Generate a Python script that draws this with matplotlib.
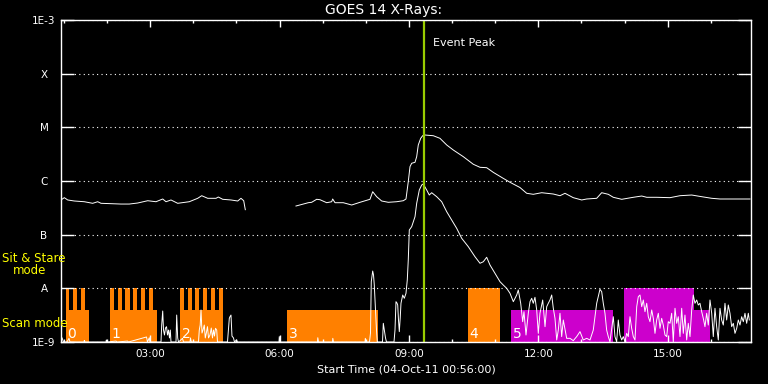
import matplotlib
matplotlib.use('Agg')
import matplotlib.pyplot as plt
import numpy as np
from matplotlib.ticker import FixedLocator, NullFormatter

# ---------------- data (time in decimal hours UT, 04-Oct-2011) ----------------
t_start = 0.9333   # 00:56
t_end = 16.9333

long_t = [0.933, 1.010, 1.089, 1.241, 1.473, 1.668, 1.784, 1.861, 2.093, 2.324, 2.517, 2.712,
          2.944, 3.136, 3.292, 3.368, 3.484, 3.639, 3.908, 4.103, 4.196, 4.335, 4.528, 4.581,
          4.683, 4.876, 5.031, 5.107, 5.170, 5.207, 5.800,
          6.382, 6.552, 6.667, 6.746, 6.862, 6.939, 7.094, 7.210, 7.233, 7.287, 7.479, 7.674,
          7.867, 8.098, 8.161, 8.253, 8.369, 8.523, 8.717, 8.870, 8.933, 8.986, 9.026, 9.065,
          9.142, 9.181, 9.218, 9.274, 9.320, 9.374, 9.566, 9.721, 9.877, 10.030, 10.262,
          10.494, 10.649, 10.804, 10.957, 11.189, 11.345, 11.576, 11.732, 11.885, 12.080,
          12.349, 12.504, 12.620, 12.812, 13.007, 13.123, 13.355, 13.471, 13.624, 13.740,
          13.935, 14.204, 14.399, 14.515, 14.746, 15.055, 15.287, 15.558, 15.790, 16.022,
          16.214, 16.910]
long_flux = [4.43e-7, 4.89e-7, 4.43e-7, 4.24e-7, 4.11e-7, 3.84e-7, 4.11e-7, 3.84e-7, 3.78e-7,
             3.72e-7, 3.72e-7, 3.89e-7, 4.29e-7, 4.11e-7, 4.62e-7, 4.11e-7, 4.43e-7, 3.84e-7,
             4.11e-7, 4.76e-7, 5.32e-7, 4.76e-7, 4.76e-7, 5.03e-7, 4.56e-7, 4.43e-7, 4.24e-7,
             4.76e-7, 4.29e-7, 2.92e-7, np.nan,
             3.42e-7, 3.72e-7, 3.94e-7, 4.01e-7, 4.56e-7, 4.48e-7, 3.94e-7, 4.11e-7, 4.62e-7,
             3.94e-7, 3.94e-7, 3.57e-7, 4.01e-7, 4.56e-7, 6.31e-7, 5.10e-7, 4.24e-7, 4.01e-7,
             4.11e-7, 4.29e-7, 4.62e-7, 9.70e-7, 1.85e-6, 2.14e-6, 2.23e-6, 2.84e-6, 4.69e-6,
             6.24e-6, 6.98e-6, 7.19e-6, 6.98e-6, 6.24e-6, 4.69e-6, 3.78e-6, 2.84e-6, 2.05e-6,
             1.80e-6, 1.77e-6, 1.45e-6, 1.12e-6, 9.46e-7, 7.56e-7, 5.90e-7, 5.65e-7, 6.05e-7,
             5.72e-7, 5.32e-7, 5.90e-7, 4.89e-7, 4.43e-7, 4.62e-7, 4.76e-7, 6.05e-7, 5.65e-7,
             4.97e-7, 4.56e-7, 4.97e-7, 5.25e-7, 4.97e-7, 4.97e-7, 4.89e-7, 5.32e-7, 5.48e-7,
             5.10e-7, 4.76e-7, 4.62e-7, 4.62e-7]

short_t = [0.933, 0.957, 0.991, 1.072, 1.119, 1.142, 1.467, 1.474, 1.490, 1.977, 1.984, 2.000,
           2.209, 2.232, 2.475, 2.498, 2.916, 2.939, 2.981, 2.997, 3.252, 3.268, 3.292, 3.310,
           3.333, 3.356, 3.380, 3.403, 3.426, 3.449, 3.468, 3.484, 3.600, 3.616, 3.639, 3.658,
           3.751, 3.774, 3.924, 3.936, 3.955, 4.121, 4.140, 4.161, 4.180, 4.203, 4.226, 4.256,
           4.279, 4.303, 4.330, 4.354, 4.388, 4.418, 4.446, 4.469, 4.493, 4.516, 4.544, 4.562,
           4.794, 4.813, 4.836, 4.852, 4.875, 4.898, 4.933, 4.956, 5.003, 5.026, 5.988, 5.995,
           6.012, 6.881, 6.888, 6.904, 7.229, 7.236, 7.252, 7.983, 7.990, 8.006, 8.087, 8.110,
           8.128, 8.161, 8.180, 8.198, 8.226, 8.249, 8.268, 8.388, 8.407, 8.430, 8.458, 8.481,
           8.655, 8.678, 8.701, 8.724, 8.741, 8.759, 8.778, 8.799, 8.817, 8.857, 8.894, 8.933,
           8.963, 8.986, 9.010, 9.065, 9.142, 9.181, 9.242, 9.297, 9.334, 9.413, 9.473, 9.529,
           9.645, 9.761, 9.877, 9.993, 10.109, 10.225, 10.378, 10.533, 10.649, 10.726, 10.804,
           10.881, 10.997, 11.113, 11.190, 11.268, 11.345, 11.422, 11.500, 11.537, 11.593,
           11.639, 11.669, 11.716, 11.769, 11.809, 11.848, 11.885, 11.924, 11.964, 12.001,
           12.040, 12.103, 12.157, 12.196, 12.233, 12.272, 12.312, 12.349, 12.388, 12.428,
           12.465, 12.504, 12.543, 12.581, 12.659, 12.736, 12.812, 12.891, 12.968, 13.044,
           13.123, 13.200, 13.276, 13.355, 13.408, 13.431, 13.471, 13.508, 13.547, 13.586,
           13.624, 13.663, 13.740, 13.779, 13.818, 13.856, 13.895, 13.935, 13.972, 14.011,
           14.050, 14.088, 14.127, 14.166, 14.204, 14.243, 14.283, 14.320, 14.359, 14.399,
           14.436, 14.475, 14.515, 14.552, 14.591, 14.631, 14.668, 14.707, 14.746, 14.784,
           14.823, 14.862, 14.899, 14.939, 14.978, 15.015, 15.055, 15.094, 15.131, 15.171,
           15.210, 15.247, 15.287, 15.326, 15.363, 15.402, 15.442, 15.479, 15.519, 15.558,
           15.595, 15.634, 15.674, 15.711, 15.750, 15.790, 15.827, 15.866, 15.905, 15.943,
           15.982, 16.022, 16.059, 16.098, 16.137, 16.175, 16.214, 16.253, 16.291, 16.330,
           16.369, 16.407, 16.446, 16.485, 16.523, 16.562, 16.602, 16.639, 16.678, 16.717,
           16.755, 16.794, 16.833, 16.871, 16.894]
short_flux = [1.09e-9, 1.20e-9, 1.00e-9, 1.00e-9, 1.17e-9, 1.00e-9, 1.00e-9, 1.07e-9, 1.00e-9,
              1.00e-9, 1.09e-9, 1.00e-9, 1.04e-9, 1.00e-9, 1.04e-9, 1.00e-9, 1.24e-9, 1.00e-9,
              1.20e-9, 1.00e-9, 1.00e-9, 2.07e-9, 3.78e-9, 1.67e-9, 1.35e-9, 1.82e-9, 1.93e-9,
              1.35e-9, 1.67e-9, 1.19e-9, 1.67e-9, 1.00e-9, 1.00e-9, 3.18e-9, 1.19e-9, 1.00e-9,
              1.17e-9, 1.00e-9, 1.00e-9, 1.19e-9, 1.00e-9, 1.00e-9, 1.67e-9, 2.07e-9, 3.95e-9,
              1.47e-9, 1.67e-9, 2.07e-9, 1.19e-9, 1.47e-9, 1.93e-9, 1.19e-9, 1.35e-9, 1.82e-9,
              1.19e-9, 1.67e-9, 1.29e-9, 1.80e-9, 1.67e-9, 1.00e-9, 1.00e-9, 1.56e-9, 2.76e-9,
              2.96e-9, 3.18e-9, 1.29e-9, 1.19e-9, 1.00e-9, 1.09e-9, 1.00e-9, 1.00e-9, 1.26e-9,
              1.00e-9, 1.00e-9, 1.20e-9, 1.00e-9, 1.00e-9, 1.17e-9, 1.00e-9, 1.00e-9, 1.17e-9,
              1.00e-9, 1.00e-9, 1.47e-9, 1.33e-8, 2.10e-8, 1.77e-8, 1.15e-8, 3.95e-9, 1.67e-9,
              1.00e-9, 1.00e-9, 2.23e-9, 1.67e-9, 1.19e-9, 1.00e-9, 1.00e-9, 1.67e-9, 5.64e-9,
              5.33e-9, 4.89e-9, 2.57e-9, 1.56e-9, 2.80e-9, 5.26e-9, 7.51e-9, 6.52e-9, 8.08e-9,
              1.43e-8, 3.37e-8, 1.22e-7, 1.41e-7, 2.16e-7, 3.84e-7, 6.79e-7, 8.42e-7, 8.79e-7,
              6.79e-7, 5.48e-7, 6.05e-7, 5.10e-7, 4.11e-7, 2.68e-7, 1.88e-7, 1.31e-7, 8.55e-8,
              5.97e-8, 3.88e-8, 2.93e-8, 3.13e-8, 3.79e-8, 2.72e-8, 1.91e-8, 1.33e-8, 1.15e-8,
              1.00e-8, 8.08e-9, 5.64e-9, 7.51e-9, 9.31e-9, 5.26e-9, 2.39e-9, 3.67e-9, 1.35e-9,
              3.43e-9, 5.64e-9, 6.52e-9, 5.26e-9, 6.81e-9, 3.95e-9, 1.45e-9, 3.43e-9, 6.06e-9,
              1.93e-9, 4.55e-9, 5.26e-9, 6.06e-9, 7.51e-9, 4.25e-9, 2.76e-9, 1.09e-9, 1.67e-9,
              3.43e-9, 1.26e-9, 2.57e-9, 1.17e-9, 1.17e-9, 1.06e-9, 1.26e-9, 1.56e-9, 1.09e-9,
              1.17e-9, 1.09e-9, 1.67e-9, 5.26e-9, 8.08e-9, 9.59e-9, 8.67e-9, 5.26e-9, 3.43e-9,
              1.67e-9, 1.26e-9, 1.01e-9, 2.96e-9, 1.26e-9, 1.01e-9, 2.57e-9, 1.35e-9, 1.09e-9,
              1.26e-9, 1.01e-9, 1.45e-9, 1.26e-9, 2.96e-9, 1.80e-9, 1.26e-9, 1.09e-9, 4.55e-9,
              6.98e-9, 7.51e-9, 4.55e-9, 6.06e-9, 3.67e-9, 5.26e-9, 2.96e-9, 2.39e-9, 3.95e-9,
              2.76e-9, 1.45e-9, 2.57e-9, 3.43e-9, 1.80e-9, 2.76e-9, 2.07e-9, 1.35e-9, 1.26e-9,
              2.39e-9, 2.23e-9, 3.43e-9, 1.01e-9, 4.25e-9, 2.23e-9, 2.96e-9, 1.26e-9, 4.25e-9,
              1.45e-9, 3.18e-9, 1.09e-9, 2.23e-9, 1.26e-9, 3.95e-9, 7.51e-9, 5.26e-9, 6.06e-9,
              4.89e-9, 5.26e-9, 3.67e-9, 2.76e-9, 1.93e-9, 3.43e-9, 2.07e-9, 6.06e-9, 3.43e-9,
              1.26e-9, 4.25e-9, 1.93e-9, 1.09e-9, 4.25e-9, 2.57e-9, 2.07e-9, 5.26e-9, 2.57e-9,
              4.89e-9, 3.43e-9, 1.93e-9, 2.23e-9, 1.45e-9, 1.80e-9, 2.57e-9, 2.07e-9, 2.96e-9,
              2.39e-9, 3.43e-9, 2.23e-9, 3.43e-9, 2.57e-9]

event_peak_t = 9.351   # 09:21

# observing mode blocks
block_labels = ['0', '1', '2', '3', '4', '5', '']
block_start = [1.042, 2.070, 3.693, 6.174, 10.370, 11.368, 13.988]
block_end = [1.575, 3.152, 4.683, 8.277, 11.106, 13.733, 15.990]
block_top = [4.0e-9, 4.0e-9, 4.0e-9, 4.0e-9, 1.0e-8, 4.0e-9, 4.0e-9]
block_mode = ['scan', 'scan', 'scan', 'scan', 'scan', 'stare', 'stare']

tall_start = [1.042, 1.219, 1.397, 2.070, 2.248, 2.424, 2.603, 2.781, 2.967,
              3.693, 3.871, 4.047, 4.226, 4.404, 4.590, 13.988]
tall_end = [1.126, 1.311, 1.497, 2.169, 2.347, 2.526, 2.702, 2.881, 3.060,
            3.785, 3.964, 4.140, 4.319, 4.504, 4.683, 15.605]
tall_top = [1.0e-8] * 16
tall_mode = ['scan'] * 15 + ['stare']

ytick_vals = [1e-9, 1e-8, 1e-7, 1e-6, 1e-5, 1e-4, 1e-3]
ytick_labels = ['1E-9', 'A', 'B', 'C', 'M', 'X', '1E-3']
xtick_major = [3, 6, 9, 12, 15]
xtick_labels = ['03:00', '06:00', '09:00', '12:00', '15:00']
xtick_minor = list(range(1, 17))

# ---------------- style ----------------
mode_color = {'scan': '#ff8000', 'stare': '#cc00cc'}
floor = 1e-9
W, H, DPI = 768, 384, 100

fig = plt.figure(figsize=(W / DPI, H / DPI), dpi=DPI, facecolor='black')
ax = fig.add_axes([61 / W, (H - 342) / H, 690 / W, 322 / H])
ax.set_facecolor('black')
ax.set_yscale('log')
ax.set_xlim(t_start, t_end)
ax.set_ylim(1e-9, 1e-3)

# mode bars
ax.bar(block_start, np.array(block_top) - floor, width=np.array(block_end) - np.array(block_start),
       bottom=floor, align='edge', color=[mode_color[m] for m in block_mode], linewidth=0, zorder=1)
ax.bar(tall_start, np.array(tall_top) - floor, width=np.array(tall_end) - np.array(tall_start),
       bottom=floor, align='edge', color=[mode_color[m] for m in tall_mode], linewidth=0, zorder=1)
for s, lab in zip(block_start, block_labels):
    if lab:
        ax.annotate(lab, xy=(s, 0), xycoords=('data', 'axes fraction'), xytext=(1.2, 2.6),
                    textcoords='offset points', color='white', fontsize=10, ha='left', va='baseline',
                    zorder=3)

# data
ax.plot(short_t, short_flux, color='white', lw=0.7, zorder=2)
ax.plot(long_t, long_flux, color='white', lw=0.7, zorder=2)

# event peak
ax.axvline(event_peak_t, color='#99cc00', lw=1.6, zorder=4)
ax.annotate('Event Peak', xy=(event_peak_t, 1), xycoords=('data', 'axes fraction'),
            xytext=(6.5, -16.6), textcoords='offset points', color='white', fontsize=8,
            ha='left', va='center')

# grid and axes
ax.yaxis.set_major_locator(FixedLocator(ytick_vals))
ax.yaxis.set_minor_locator(FixedLocator([]))
ax.set_yticklabels(ytick_labels)
ax.yaxis.set_minor_formatter(NullFormatter())
ax.xaxis.set_major_locator(FixedLocator(xtick_major))
ax.set_xticklabels(xtick_labels)
ax.xaxis.set_minor_locator(FixedLocator(xtick_minor))
ax.grid(axis='y', which='major', color='white', linestyle=(0, (1, 3)), lw=0.8, zorder=0)

for sp in ax.spines.values():
    sp.set_color('white')
    sp.set_linewidth(1.0)
    sp.set_zorder(5)
ax.tick_params(axis='y', which='major', direction='in', length=9.4, width=1.0, color='white',
               left=True, right=True, labelcolor='white', labelsize=7.5, pad=12.2)
ax.tick_params(axis='x', which='major', direction='in', length=5, width=1.0, color='white',
               top=True, bottom=True, labelcolor='white', labelsize=7.5, pad=5)
ax.tick_params(axis='x', which='minor', direction='in', length=2.5, width=1.0, color='white',
               top=True, bottom=True)
for lab in ax.get_yticklabels():
    lab.set_ha('center')

fig.text(0.5, 1 - 10 / H, 'GOES 14 X-Rays:', color='white', fontsize=10, ha='center', va='center')
fig.text(406 / W, 1 - 369 / H, 'Start Time (04-Oct-11 00:56:00)', color='white', fontsize=8,
         ha='center', va='center')
fig.text(2 / W, 1 - 259 / H, 'Sit & Stare', color='yellow', fontsize=8.5, ha='left', va='center')
fig.text(13 / W, 1 - 271 / H, 'mode', color='yellow', fontsize=8.5, ha='left', va='center')
fig.text(2 / W, 1 - 323.5 / H, 'Scan mode', color='yellow', fontsize=8.5, ha='left', va='center')

fig.savefig('out.png', dpi=DPI, facecolor='black')
